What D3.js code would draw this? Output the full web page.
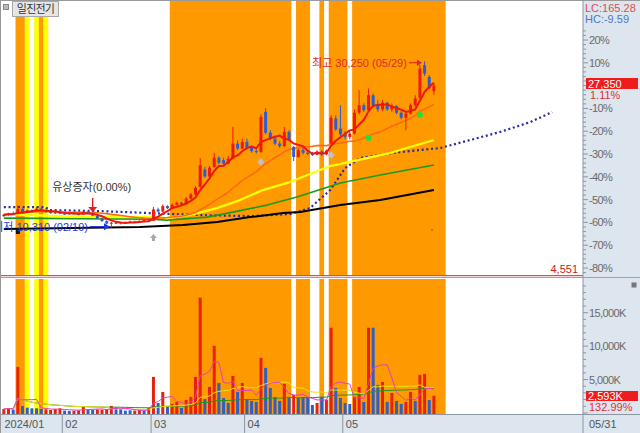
<!DOCTYPE html>
<html><head><meta charset="utf-8">
<script src="https://cdn.jsdelivr.net/npm/d3@7/dist/d3.min.js"></script>
<style>
html,body{margin:0;padding:0;background:#fff;overflow:hidden;}
svg text{font-family:"Liberation Sans","Noto Sans CJK KR",sans-serif;}
</style></head><body>
<svg id="c" width="640" height="433"></svg>
<script>
// ---------------- DATA ----------------
const dates = ["01/15","01/16","01/17","01/18","01/19","01/22","01/23","01/24","01/25","01/26","01/29","01/30","01/31",
"02/01","02/02","02/05","02/06","02/07","02/08","02/13","02/14","02/15","02/16","02/19","02/20","02/21","02/22","02/23","02/26","02/27","02/28","02/29",
"03/04","03/05","03/06","03/07","03/08","03/11","03/12","03/13","03/14","03/15","03/18","03/19","03/20","03/21","03/22","03/25","03/26","03/27","03/28","03/29",
"04/01","04/02","04/03","04/04","04/05","04/08","04/09","04/11","04/12","04/15","04/16","04/17","04/18","04/19","04/22","04/23","04/24","04/25","04/26","04/29","04/30",
"05/02","05/03","05/07","05/08","05/09","05/10","05/13","05/14","05/16","05/17","05/20","05/21","05/22","05/23","05/24","05/27","05/28","05/29","05/30","05/31"];
const openP  = [11700,11850,12000,11950,12550,12100,12400,12250,12600,12350,12200,12050,12150,12000,11950,12050,11950,11900,12200,12000,11750,11400,11100,10800,10900,10850,10950,10900,11050,10950,11100,11200,
11150,12500,12250,12900,12650,13050,13300,13150,13800,14300,15200,17300,16450,17600,18700,18400,18000,18600,20400,19800,
20600,19900,19500,19400,24200,21700,21000,20400,20100,21800,20000,18800,19600,19300,19150,19050,19450,19100,20400,23400,22200,
21500,21200,21600,24100,25000,24400,26200,25000,24500,25300,24500,24900,24100,23500,24000,25000,25900,29800,28400,26700];
const highP  = [11950,12100,12250,13000,12700,12500,12500,12800,12700,12450,12300,12200,12250,12100,12100,12150,12050,12350,12300,12150,11800,11500,11200,11000,11100,11000,11050,11150,11150,11200,11300,11400,
12800,12700,13100,13000,13200,13450,13400,14000,14500,15300,18660,17600,17700,19300,18900,18700,18900,22400,20800,21000,
21000,20100,19800,23900,24660,22000,21300,20700,22400,22000,20100,19800,19900,19600,19400,19600,19600,19700,23800,23800,25000,
21900,21800,24500,26800,25300,27000,26400,25600,25600,25400,25200,25000,24300,24200,25200,26200,29800,30250,28600,27600];
const lowP   = [11600,11750,11900,11900,12100,12050,12150,12200,12300,12100,12000,11950,11950,11850,11850,11900,11800,11850,11950,11700,11350,11000,10700,10310,10750,10700,10800,10850,10900,10900,11000,11050,
11100,12150,12200,12550,12600,12950,13050,13100,13700,14200,15100,16300,16400,17500,17900,17900,17900,18500,19600,19700,
19700,19300,19200,19300,21500,20800,20200,19900,20000,20700,18300,18700,19100,19000,18900,19000,18900,19000,20300,21900,21300,
20900,20900,21500,23900,24200,24300,24800,24200,24300,24300,24200,23900,23300,22000,23900,24800,25700,28500,26900,26200];
const closeP = [11850,12000,11950,12550,12200,12400,12250,12600,12350,12200,12050,12150,12000,11950,12050,11950,11900,12200,12000,11750,11400,11100,10800,10900,10850,10950,10900,11050,10950,11100,11200,11150,
12500,12250,12900,12650,13050,13300,13150,13800,14300,15100,17800,16450,17500,18700,18100,18000,18600,20400,19800,20600,
19900,19500,19400,23600,21700,21000,20400,20100,21800,20900,18800,19600,19300,19150,19050,19450,19100,19550,23500,22100,21500,
21200,21600,24100,25000,24400,26200,25000,24500,25300,24500,24900,24100,23500,24000,25000,25800,29400,28800,27050,27350];
const volumeK = [600,750,500,6900,1050,800,700,700,600,550,450,600,700,350,300,350,400,1050,450,500,550,500,600,1050,800,600,350,400,350,450,400,750,
5400,1500,3150,1000,1350,1650,750,1950,2400,5400,17250,2100,3900,10050,4500,2250,1500,5550,3150,4500,
2100,1800,1650,8250,6750,3750,2400,1800,4350,2250,2700,2250,2400,2400,1200,1500,2400,2000,12750,3750,2250,
1500,1350,2400,3900,1650,12750,12750,4200,4650,1650,3000,1800,1350,1650,3150,1800,5700,5850,1950,2593];
const volumeUp = [1,1,0,1,0,0,0,0,0,1,1,1,1,0,0,1,1,1,0,0,1,1,1,1,0,0,0,0,1,1,0,1,
1,0,1,0,1,1,0,1,1,1,1,0,1,1,0,0,0,1,0,1,
0,0,0,1,0,0,0,0,1,0,1,0,0,0,0,1,0,1,1,0,0,
0,0,1,1,0,1,0,0,1,0,1,0,0,1,1,0,1,1,0,1];
// signal shading per day: 0 none, 1 orange, 2 yellow
const bandType = [0,0,0,1,1,2,0,2,1,2,0,0,0,0,0,0,0,0,0,0,0,0,0,0,0,0,0,0,0,0,0,0,
0,0,0,0,1,1,1,1,1,1,1,1,1,1,1,1,1,1,1,1,
1,1,1,1,1,1,1,1,1,1,0,1,1,1,0,0,1,0,1,1,1,1,0,
1,1,1,1,1,1,1,1,1,1,1,1,1,1,1,1,1,1,1,1];
// long moving averages (day index, price)
const maYellowDay = [0,12,20.6,31.3,34.9,39.8,45.6,50.5,55.4,61.2,69.8,82.6,92];
const maYellow    = [11940,11700,11580,11580,11460,11820,12660,13620,14820,15780,17700,19260,20820];
const maGreenDay  = [0,31.3,34.9,43.5,49,56.3,62.7,72,80.5,92];
const maGreen     = [11460,11340,11220,11580,12180,13020,13980,15660,16620,17820];
const maBlackDay  = [0,29.1,38.3,45.6,52.7,59.7,63.4,72,80.5,92];
const maBlack     = [10140,10380,10620,10980,11580,12060,12180,13020,13620,14820];
const maDotDay    = [0,8.8,9.9,20.6,31.3,42,52.7,61.2,65.5,69.8,73,76.2,84.7,93.3,99.7,106.1,112.6,117.3];
const maDot       = [12780,12780,12420,12300,12060,11820,11700,11940,12660,14820,17460,18660,19380,19860,20820,21780,22980,24180];
// axis labels
const pctTicks = [20,10,-10,-20,-30,-40,-50,-60,-70,-80];
const volTicks = [5000,10000,15000];
const monthLabels = [{i:0,t:"2024/01"},{i:13,t:"02"},{i:32,t:"03"},{i:52,t:"04"},{i:73,t:"05"}];
const lastClose = 27350, hiInfo = {i:90,v:30250,d:"05/29"}, loInfo = {i:23,v:10310,d:"02/19"};

// ---------------- SCALES ----------------
const N = dates.length;
const svg = d3.select("#c");
const axL = 583;
const x = d3.scaleLinear().domain([-0.5, N-0.5]).range([1.5, 1.5 + N*4.675]);
const bw = x(1)-x(0);
const yP = d3.scaleLinear().domain([4551, 37620]).range([275.7, 0]);
const yV = d3.scaleLinear().domain([0, 15000]).range([413, 312.7]);
const pctY = p => yP(lastClose*(1+p/100));

// backgrounds
svg.append("rect").attr("width",640).attr("height",433).attr("fill","#fff");
svg.append("rect").attr("x",axL).attr("y",0).attr("width",640-axL).attr("height",433).attr("fill","#dde5ee");
svg.append("rect").attr("x",0).attr("y",414).attr("width",axL).attr("height",19).attr("fill","#dde5ee");

// bands (consecutive days of same type merged)
const bandColor = {1:"#ff9900",2:"#ffff00"};
const runs = [];
bandType.forEach((b,i)=>{
  if(runs.length && runs[runs.length-1].b===b && runs[runs.length-1].e===i-1) runs[runs.length-1].e=i;
  else runs.push({b,s:i,e:i});
});
const bandG = svg.append("g");
runs.filter(r=>r.b).forEach(r=>{
  [[1,275],[279,414]].forEach(([y0,y1])=>{
    bandG.append("rect").attr("x",x(r.s-0.5)).attr("width",x(r.e+0.5)-x(r.s-0.5)).attr("y",y0).attr("height",y1-y0).attr("fill",bandColor[r.b]);
  });
});

// min line
svg.append("line").attr("x1",0).attr("x2",axL).attr("y1",yP(4551)).attr("y2",yP(4551)).attr("stroke","#e02020").attr("stroke-width",1);
svg.append("line").attr("x1",0).attr("x2",640).attr("y1",277.5).attr("y2",277.5).attr("stroke","#9aa4b0").attr("stroke-width",1);

// moving-average helpers
const sma = (arr,n) => arr.map((_,i)=>d3.mean(arr.slice(Math.max(0,i-n+1),i+1)));
const line = d3.line();
function drawPts(days, vals, color, w, dash){
  const p = svg.append("path").attr("d", line(days.map((d,k)=>[x(d), yP(vals[k])])))
    .attr("fill","none").attr("stroke",color).attr("stroke-width",w).attr("stroke-linejoin","round");
  if(dash) p.attr("stroke-dasharray",dash);
  return p;
}
drawPts(maDotDay, maDot, "#2a2aa8", 2.2, "2,2.7");
drawPts(maBlackDay, maBlack, "#000", 2);
drawPts(maGreenDay, maGreen, "#1c9a1c", 1.6);
drawPts(maYellowDay, maYellow, "#ffff00", 2.2);
const ma20 = sma(closeP,20), ma5 = sma(closeP,5);
svg.append("path").attr("d", line(ma20.map((v,i)=>[x(i),yP(v)]))).attr("fill","none").attr("stroke","#ff6a10").attr("stroke-width",1.6);

// candles
const up="#f01a0a", dn="#2c5bd6";
const cg = svg.append("g");
dates.forEach((d,i)=>{
  const c = closeP[i]>=openP[i]?up:dn;
  cg.append("line").attr("x1",x(i)).attr("x2",x(i)).attr("y1",yP(highP[i])).attr("y2",yP(lowP[i])).attr("stroke",c).attr("stroke-width",1);
  const y0 = yP(Math.max(openP[i],closeP[i])), y1 = yP(Math.min(openP[i],closeP[i]));
  cg.append("rect").attr("x",x(i)-1.5).attr("width",3).attr("y",y0).attr("height",Math.max(1,y1-y0)).attr("fill",c);
});
svg.append("path").attr("d", line(ma5.map((v,i)=>[x(i),yP(v)]))).attr("fill","none").attr("stroke","#ee1808").attr("stroke-width",2).attr("stroke-linejoin","round");

// volume
const vg = svg.append("g");
volumeK.forEach((v,i)=>{
  vg.append("rect").attr("x",x(i)-1.5).attr("width",3).attr("y",yV(v)).attr("height",415-yV(v)).attr("fill",volumeUp[i]?"#e8200c":"#2f5fc4");
});
const vline = (arr,col)=>svg.append("path").attr("d",line(arr.map((v,i)=>[x(i),yV(v)]))).attr("fill","none").attr("stroke",col).attr("stroke-width",1);
vline(sma(volumeK,60),"#1c9a1c");
vline(sma(volumeK,20),"#e8e020");
vline(sma(volumeK,5),"#e040c0");

// markers
svg.append("path").attr("d",`M${x(32)-3.5},${238} l3.5,-4 l3.5,4 h-2 v3 h-3 v-3 z`).attr("fill","#a8a8a8");
[[55,162],[70,155]].forEach(([i,yy])=>{
  svg.append("path").attr("d",`M${x(i)},${yy-4} l3.5,4 l-3.5,4 l-3.5,-4 z`).attr("fill","#c0c0c0");
});
[[78,138],[89,115]].forEach(([i,yy])=>svg.append("circle").attr("cx",x(i)).attr("cy",yy).attr("r",3).attr("fill","#22e040"));
svg.append("rect").attr("x",x(3)-2).attr("y",228).attr("width",4).attr("height",6).attr("fill","#111");
svg.append("circle").attr("cx",432).attr("cy",230).attr("r",0.8).attr("fill","#e02020");

// annotations
svg.append("text").attr("x",x(19)-1).attr("y",191).attr("text-anchor","middle").attr("font-size",11).attr("fill","#333").text("유상증자(0.00%)");
svg.append("line").attr("x1",x(19)).attr("x2",x(19)).attr("y1",198).attr("y2",207).attr("stroke","#e02020").attr("stroke-width",1.5);
svg.append("path").attr("d",`M${x(19)-4.5},207 h9 l-4.5,5 z`).attr("fill","#e02020");
svg.append("text").attr("x",88).attr("y",230.5).attr("text-anchor","end").attr("font-size",11).attr("fill","#1e38e0").text(`최저 ${d3.format(",")(loInfo.v)} (${loInfo.d})`);
svg.append("line").attr("x1",90).attr("x2",105).attr("y1",226.7).attr("y2",226.7).attr("stroke","#1e38e0").attr("stroke-width",1.2);
svg.append("path").attr("d","M104,223.2 l6,3.5 l-6,3.5 z").attr("fill","#1e38e0");
svg.append("text").attr("x",312).attr("y",67).attr("font-size",11).attr("fill","#e02a2a").text(`최고 ${d3.format(",")(hiInfo.v)} (${hiInfo.d})`);
svg.append("line").attr("x1",409).attr("x2",418).attr("y1",62.7).attr("y2",62.7).attr("stroke","#e02a2a").attr("stroke-width",1.2);
svg.append("path").attr("d","M417,59.5 l5,3.2 l-5,3.2 z").attr("fill","#e02a2a");

// title
svg.append("rect").attr("x",3.5).attr("y",4.5).attr("width",5).attr("height",5).attr("fill","#b8b8b8").attr("stroke","#888");
svg.append("rect").attr("x",12.5).attr("y",1.5).attr("width",46).attr("height",15).attr("fill","#e6e6e6").attr("stroke","#a8a8a8");
svg.append("text").attr("x",35.5).attr("y",13).attr("text-anchor","middle").attr("font-size",11).attr("letter-spacing","-0.8").attr("fill","#333").text("일진전기");

// frame
svg.append("line").attr("x1",0).attr("x2",640).attr("y1",0.5).attr("y2",0.5).attr("stroke","#999");
svg.append("line").attr("x1",0.5).attr("x2",0.5).attr("y1",0).attr("y2",433).attr("stroke","#999");

// right axis
const ax = svg.append("g");
ax.append("line").attr("x1",axL).attr("x2",axL).attr("y1",0).attr("y2",433).attr("stroke","#8c96a4");
ax.append("line").attr("x1",0).attr("x2",640).attr("y1",414.5).attr("y2",414.5).attr("stroke","#8c96a4");
d3.range(-84,26,2).forEach(p=>{
  const yy = pctY(p); if(yy<2||yy>275) return;
  ax.append("line").attr("x1",axL).attr("x2",axL+(p%10===0?5:3)).attr("y1",yy).attr("y2",yy).attr("stroke","#8c96a4");
});
pctTicks.forEach(p=>{
  ax.append("text").attr("x",axL+6).attr("y",pctY(p)+4).attr("font-size",11).attr("letter-spacing","-0.6").attr("fill","#6a6a6a").text(p+"%");
});
d3.range(0,19001,1000).forEach(v=>{
  const yy=yV(v); if(yy<280) return;
  ax.append("line").attr("x1",axL).attr("x2",axL+(v%5000===0?5:3)).attr("y1",yy).attr("y2",yy).attr("stroke","#8c96a4");
});
volTicks.forEach(v=>{
  ax.append("text").attr("x",axL+6).attr("y",yV(v)+4).attr("font-size",11).attr("letter-spacing","-0.6").attr("fill","#6a6a6a").text(d3.format(",")(v)+"K");
});
ax.append("text").attr("x",585).attr("y",12).attr("font-size",11).attr("fill","#d85050").text("LC:165.28");
ax.append("text").attr("x",585).attr("y",23).attr("font-size",11).attr("fill","#4a78c8").text("HC:-9.59");
ax.append("rect").attr("x",586).attr("y",78).attr("width",52).attr("height",11).attr("fill","#ee1c1c");
ax.append("text").attr("x",588).attr("y",87.5).attr("font-size",11).attr("fill","#fff").text(d3.format(",")(lastClose));
ax.append("text").attr("x",590).attr("y",98.5).attr("font-size",11).attr("fill","#e03030").text("1.11%");
svg.append("text").attr("x",578).attr("y",273).attr("text-anchor","end").attr("font-size",11).attr("fill","#d02020").text("4,551");
ax.append("rect").attr("x",586).attr("y",391).attr("width",52).attr("height",10).attr("fill","#ee1c1c");
ax.append("text").attr("x",588).attr("y",400).attr("font-size",11).attr("fill","#fff").text(d3.format(",")(volumeK[N-1])+"K");
ax.append("text").attr("x",589).attr("y",410.5).attr("font-size",11).attr("fill","#e03030").text("132.99%");
ax.append("text").attr("x",589).attr("y",428).attr("font-size",11).attr("fill","#555").text(dates[N-1]);
ax.append("rect").attr("x",631.5).attr("y",282.5).attr("width",5).attr("height",5).attr("fill","#777");

// x axis labels
monthLabels.forEach(m=>{
  const xx = m.i===0?1.5:x(m.i-0.5);
  if(m.i>0) svg.append("line").attr("x1",xx).attr("x2",xx).attr("y1",414).attr("y2",433).attr("stroke","#8c96a4");
  svg.append("text").attr("x",xx+3).attr("y",428).attr("font-size",11).attr("fill","#555").text(m.t);
});
</script>
</body></html>
